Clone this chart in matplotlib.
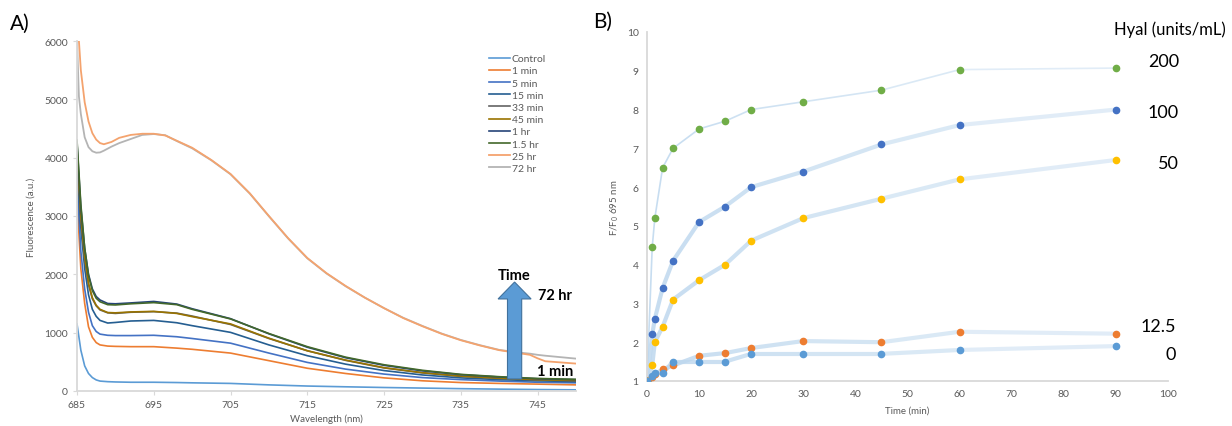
import matplotlib
matplotlib.use("Agg")
import matplotlib.pyplot as plt
from matplotlib.patches import FancyArrow

plt.rcParams['font.family'] = ['Lato', 'DejaVu Sans']
plt.rcParams['mathtext.default'] = 'regular'

# ---- A) 蛍光スペクトル ----
wl_lo = [685, 685.5, 686, 686.5, 687, 687.5, 688, 689, 690, 692, 695, 698, 700,
         705, 710, 715, 720, 725, 730, 735, 740, 745, 750]
control = [1150, 700, 430, 300, 230, 190, 170, 160, 155, 150, 150, 145, 140,
           130, 105, 85, 72, 60, 50, 40, 32, 25, 20]
min1 = [3300, 2100, 1500, 1100, 920, 830, 790, 770, 765, 760, 760, 735, 715,
        650, 520, 390, 300, 225, 175, 145, 130, 118, 105]
min5 = [3600, 2400, 1750, 1350, 1120, 1020, 975, 955, 950, 950, 955, 930, 900,
        820, 650, 490, 375, 290, 230, 195, 170, 150, 140]
min15 = [3900, 2800, 2100, 1650, 1400, 1280, 1210, 1165, 1175, 1200, 1210, 1170, 1120,
         1005, 790, 605, 460, 350, 275, 225, 195, 175, 160]
min33 = [4100, 2950, 2250, 1820, 1580, 1460, 1390, 1340, 1330, 1350, 1360, 1335, 1285,
         1140, 900, 690, 525, 395, 310, 250, 215, 190, 175]
min45 = [4150, 3000, 2300, 1850, 1600, 1470, 1400, 1345, 1340, 1355, 1365, 1330, 1275,
         1150, 905, 690, 530, 400, 315, 255, 220, 195, 180]
hr1 = [4250, 3150, 2450, 2000, 1750, 1620, 1560, 1500, 1495, 1510, 1535, 1490, 1410,
       1240, 980, 750, 570, 440, 345, 280, 240, 210, 195]
hr1_5 = [4300, 3200, 2450, 1980, 1720, 1590, 1530, 1480, 1475, 1495, 1515, 1480, 1400,
         1235, 985, 760, 580, 450, 355, 285, 245, 215, 200]

wl_hi = [685, 685.25, 685.5, 686, 686.5, 687, 687.5, 688, 688.5, 689.5, 690.5, 692, 693.5,
         695, 696.5, 698, 700, 702.5, 705, 707.5, 710, 712.5, 715, 717.5, 720, 722.5,
         725, 727.5, 730, 732.5, 735, 737.5, 740, 742.5, 744, 745, 746, 748, 750]
hr25 = [6500, 6000, 5500, 4950, 4620, 4420, 4310, 4250, 4230, 4270, 4340, 4390, 4410,
        4410, 4380, 4290, 4170, 3960, 3720, 3390, 3000, 2620, 2280, 2020, 1800, 1600,
        1420, 1250, 1110, 980, 870, 780, 700, 650, 620, 560, 510, 490, 470]
hr72 = [6000, 5050, 4750, 4350, 4180, 4110, 4085, 4090, 4120, 4190, 4250, 4320, 4390,
        4405, 4385, 4285, 4160, 3955, 3715, 3385, 2995, 2615, 2275, 2015, 1795, 1600,
        1420, 1255, 1115, 985, 875, 785, 705, 660, 640, 620, 605, 580, 555]

labels_a = ["Control", "1 min", "5 min", "15 min", "33 min", "45 min", "1 hr", "1.5 hr", "25 hr", "72 hr"]
colors_a = ["#5b9bd5", "#ed7d31", "#4472c4", "#255e91", "#636363", "#997300",
            "#264478", "#43682b", "#f4a36e", "#b4b4b4"]

# ---- B) F/F0 の時間変化 ----
time_min = [0, 1, 1.5, 3, 5, 10, 15, 20, 30, 45, 60, 90]
hyal_200 = [1, 4.45, 5.2, 6.5, 7.0, 7.5, 7.7, 8.0, 8.2, 8.5, 9.03, 9.07]
hyal_100 = [1, 2.2, 2.6, 3.4, 4.1, 5.1, 5.5, 6.0, 6.4, 7.1, 7.6, 8.0]
hyal_50 = [1, 1.4, 2.0, 2.4, 3.1, 3.6, 4.0, 4.62, 5.2, 5.7, 6.2, 6.7]
hyal_12_5 = [1, 1.1, 1.17, 1.3, 1.4, 1.65, 1.72, 1.85, 2.03, 2.0, 2.27, 2.22]
hyal_0 = [1, 1.12, 1.2, 1.2, 1.5, 1.5, 1.5, 1.7, 1.7, 1.7, 1.8, 1.9]
hyal_labels = ["200", "100", "50", "12.5", "0"]
colors_b = ["#70ad47", "#4472c4", "#ffc000", "#ed7d31", "#5b9bd5"]

W, H = 1232, 427
fig = plt.figure(figsize=(W / 100, H / 100), dpi=100)

tick_col = "#595959"
spine_col = "#d9d9d9"

# ===== A =====
axA = fig.add_axes([77 / W, 1 - 392 / H, (576 - 77) / W, (392 - 42) / H])
series_a = [control, min1, min5, min15, min33, min45, hr1, hr1_5]
for vals, lab, c in zip(series_a, labels_a[:8], colors_a[:8]):
    axA.plot(wl_lo, vals, color=c, lw=1.2, label=lab)
axA.plot(wl_hi, hr25, color=colors_a[8], lw=1.3, label=labels_a[8], zorder=3)
axA.plot(wl_hi, hr72, color=colors_a[9], lw=1.3, label=labels_a[9], zorder=2.5)

axA.set_xlim(685, 750)
axA.set_ylim(0, 6000)
axA.set_xticks([685, 695, 705, 715, 725, 735, 745])
axA.set_yticks(range(0, 6001, 1000))
for s in ["top", "right"]:
    axA.spines[s].set_visible(False)
for s in ["left", "bottom"]:
    axA.spines[s].set_color(spine_col)
    axA.spines[s].set_linewidth(1.3)
axA.tick_params(colors=spine_col, labelcolor=tick_col, labelsize=7.5, length=3)
axA.set_xlabel("Wavelength (nm)", color=tick_col, fontsize=7, labelpad=3)
axA.set_ylabel("Fluorescence (a.u.)", color=tick_col, fontsize=7, labelpad=6)

leg = axA.legend(loc="upper left", bbox_to_anchor=(0.818, 0.975), frameon=False,
                 fontsize=7.5, handlelength=2.0, handletextpad=0.15, labelspacing=0.28,
                 borderaxespad=0)
for t in leg.get_texts():
    t.set_color(tick_col)

# 時間の矢印
arrow = FancyArrow(742.0, 206, 0, 1662, width=1.85, head_width=4.3, head_length=290,
                   length_includes_head=True, facecolor="#5b9bd5", edgecolor="#41719c",
                   lw=0.8, zorder=5)
axA.add_patch(arrow)
axA.text(742.0, 1990, "Time", ha="center", va="center", fontsize=10.5, fontweight="bold")
axA.text(747.3, 1640, "72 hr", ha="center", va="center", fontsize=10.5, fontweight="bold",
         clip_on=False)
axA.text(747.3, 345, "1 min", ha="center", va="center", fontsize=10.5, fontweight="bold",
         clip_on=False)

# ===== B =====
axB = fig.add_axes([647 / W, 1 - 382 / H, (1168 - 647) / W, (382 - 33) / H])
series_b = [hyal_200, hyal_100, hyal_50, hyal_12_5, hyal_0]
for k, (vals, c) in enumerate(zip(series_b, colors_b)):
    lw = 1.2 if k == 0 else 3.0
    for i in range(len(time_min) - 1):
        a = 0.85 - 0.6 * time_min[i] / 90
        axB.plot(time_min[i:i + 2], vals[i:i + 2], color="#bdd7ee", lw=lw, alpha=a,
                 solid_capstyle="round", zorder=2)
    axB.plot(time_min, vals, ls="none", marker="o", ms=4.5, color=c, zorder=3)

axB.set_xlim(0, 100)
axB.set_ylim(1, 10)
axB.set_xticks(range(0, 101, 10))
axB.set_yticks(range(1, 11))
for s in ["top", "right"]:
    axB.spines[s].set_visible(False)
for s in ["left", "bottom"]:
    axB.spines[s].set_color(spine_col)
    axB.spines[s].set_linewidth(1.3)
axB.tick_params(colors=spine_col, labelcolor=tick_col, labelsize=7.5, length=0, pad=6)
axB.set_xlabel("Time (min)", color=tick_col, fontsize=7, labelpad=5)
axB.set_ylabel("F/F$_0$ 695 nm", color=tick_col, fontsize=7, labelpad=4)

# ラベル
fig.text(10 / W, 1 - 24 / H, "A)", fontsize=15, va="center", ha="left")
fig.text(593 / W, 1 - 22 / H, "B)", fontsize=15, va="center", ha="left")
fig.text(1226 / W, 1 - 30 / H, "Hyal (units/mL)", fontsize=12, ha="right", va="center")
label_y = [62, 113, 164, 327, 355]
label_x = [1179, 1179, 1179, 1176, 1176]
for lab, yy, xx in zip(hyal_labels, label_y, label_x):
    fig.text(xx / W, 1 - yy / H, lab, fontsize=13, ha="right", va="center")

fig.savefig("out.png", dpi=100)
